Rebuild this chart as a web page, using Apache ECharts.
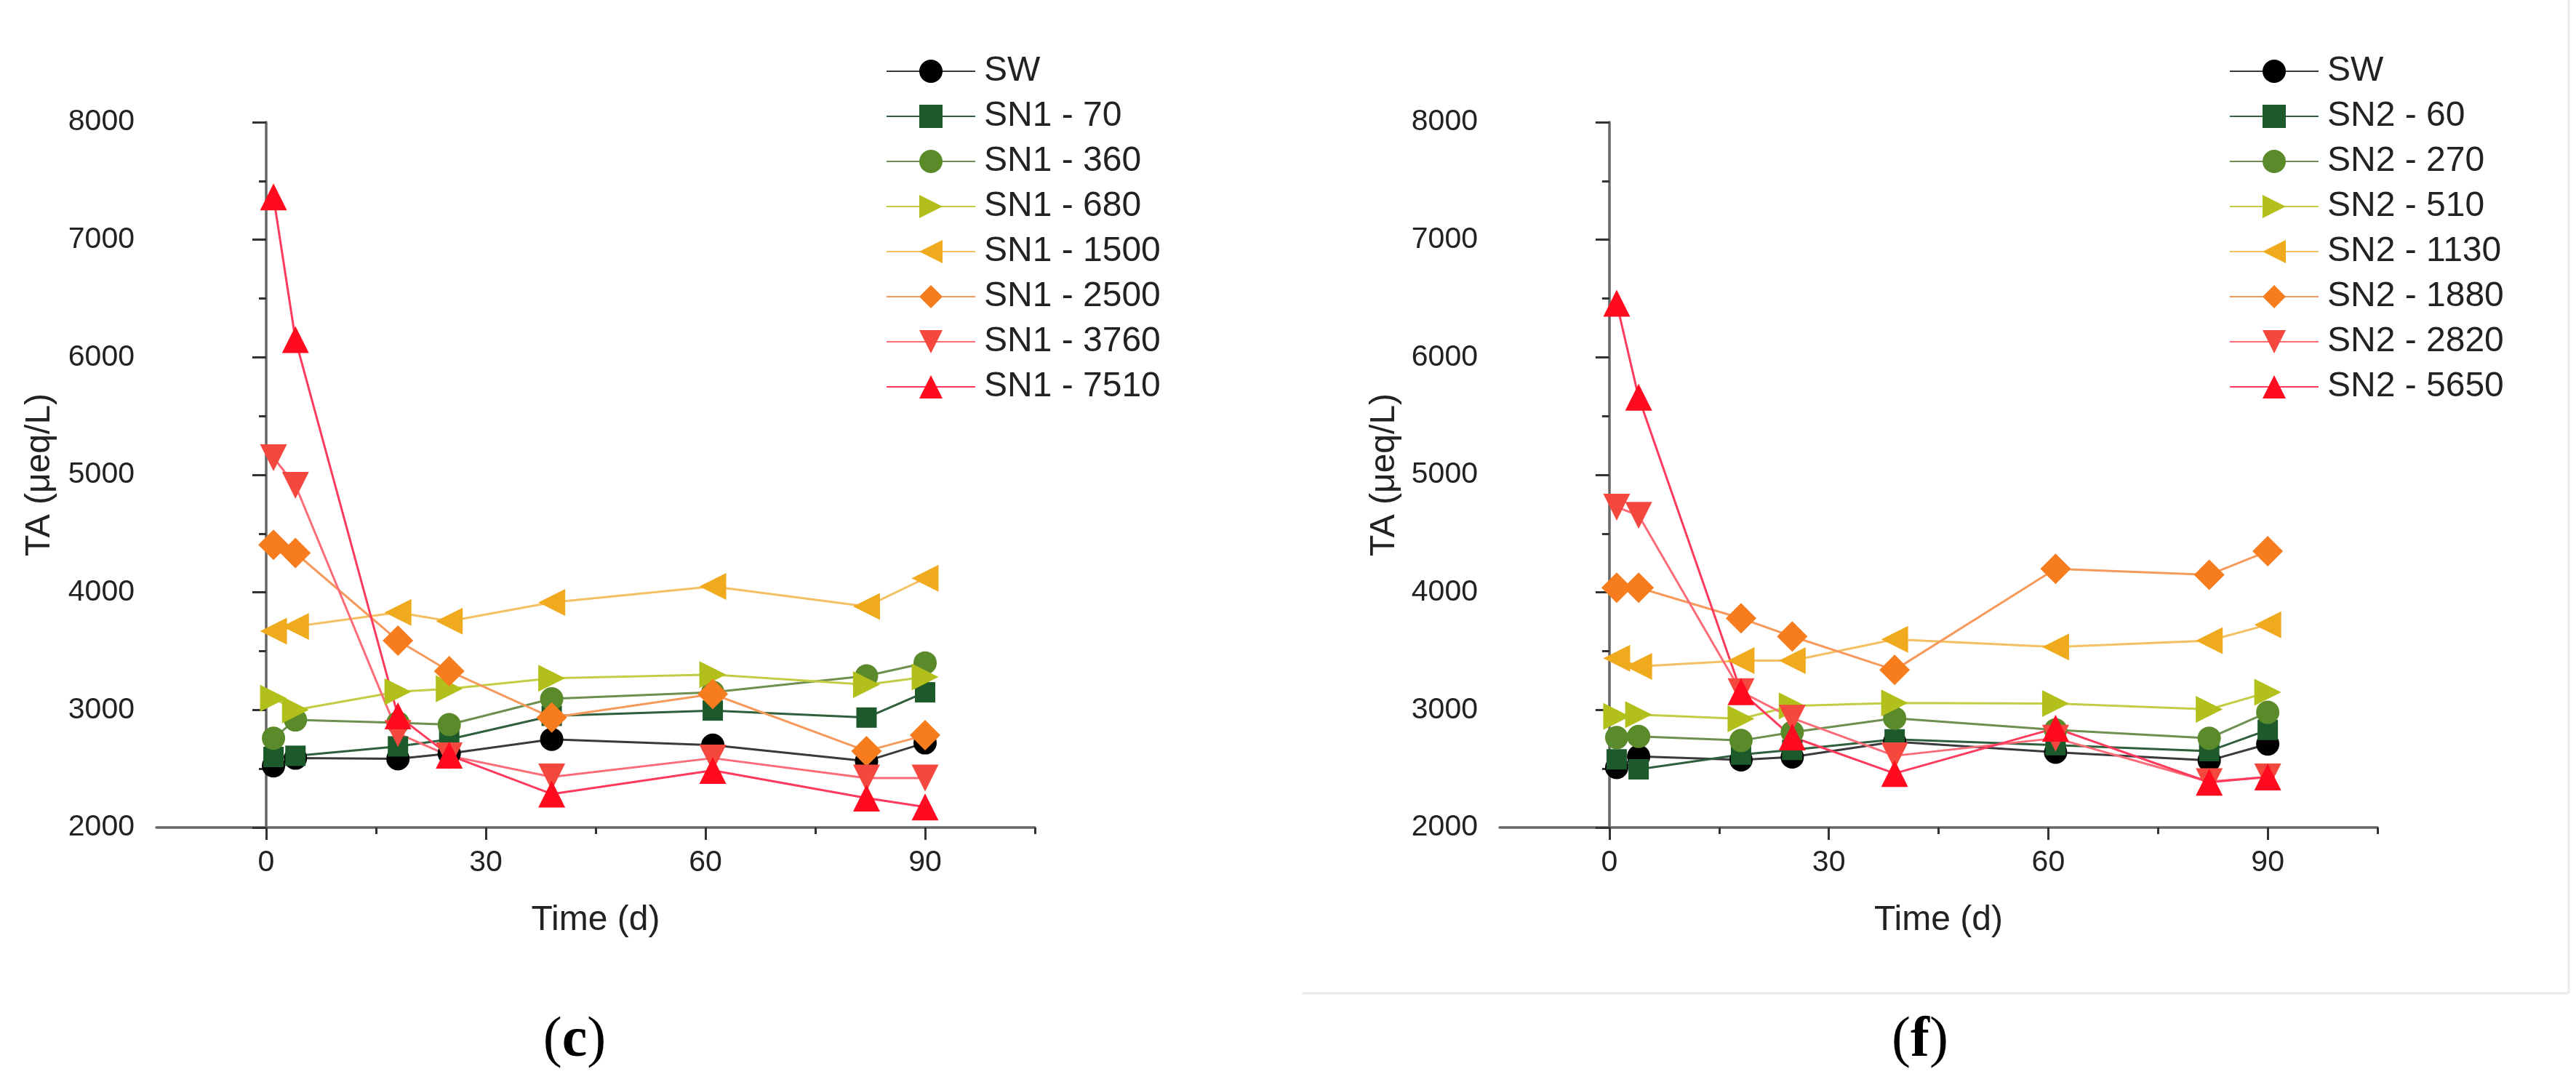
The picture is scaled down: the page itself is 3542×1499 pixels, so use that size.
<!DOCTYPE html>
<html>
<head>
<meta charset="utf-8">
<title>TA over time</title>
<script src="https://cdn.jsdelivr.net/npm/echarts@6.0.0/dist/echarts.min.js"></script>
<style>
    html, body {margin: 0; padding: 0; background: #fff;}
    #echart_container {width: 3542px; height: 1499px;}
</style>
</head>
<body>
<div id="echart_container"></div>
<script>
// sampling days (x)
const times = [1, 4, 18, 25, 39, 61, 82, 90];
const xLabelTicks = [0, 30, 60, 90];
const xMinorTicks = [15, 45, 75, 105];

// panel (c)
const namesC = ['SW', 'SN1 - 70', 'SN1 - 360', 'SN1 - 680', 'SN1 - 1500', 'SN1 - 2500', 'SN1 - 3760', 'SN1 - 7510'];
const swC = [2525, 2590, 2585, 2630, 2750, 2700, 2565, 2720];
const sn1_70 = [2600, 2610, 2690, 2750, 2950, 2995, 2935, 3150];
const sn1_360 = [2760, 2915, 2890, 2875, 3095, 3150, 3290, 3400];
const sn1_680 = [3100, 3000, 3155, 3180, 3270, 3300, 3215, 3280];
const sn1_1500 = [3670, 3710, 3830, 3755, 3915, 4050, 3880, 4120];
const sn1_2500 = [4405, 4335, 3590, 3330, 2935, 3135, 2650, 2785];
const sn1_3760 = [5145, 4910, 2800, 2610, 2430, 2590, 2420, 2420];
const sn1_7510 = [7365, 6150, 2950, 2615, 2285, 2485, 2250, 2175];

// panel (f)
const namesF = ['SW', 'SN2 - 60', 'SN2 - 270', 'SN2 - 510', 'SN2 - 1130', 'SN2 - 1880', 'SN2 - 2820', 'SN2 - 5650'];
const swF = [2510, 2605, 2575, 2600, 2730, 2640, 2570, 2710];
const sn2_60 = [2580, 2495, 2620, 2660, 2750, 2700, 2650, 2830];
const sn2_270 = [2765, 2775, 2740, 2810, 2930, 2830, 2760, 2980];
const sn2_510 = [2945, 2960, 2925, 3035, 3060, 3055, 3005, 3150];
const sn2_1130 = [3440, 3370, 3420, 3420, 3600, 3535, 3590, 3725];
const sn2_1880 = [4040, 4040, 3780, 3625, 3340, 4200, 4150, 4350];
const sn2_2820 = [4725, 4655, 3155, 2930, 2610, 2760, 2390, 2430];
const sn2_5650 = [6460, 5660, 3155, 2770, 2460, 2845, 2385, 2430];

const yTicks = {min: 2000, max: 8000, interval: 1000};

const FONT = '"Liberation Sans", Arial, sans-serif';
const TEXT = '#222';

// marker + colour per concentration level
const styles = [
    {symbol: 'circle', size: 32, rotate: 0, color: '#000000', line: '#3a3a3a'},
    {symbol: 'rect', size: 28, rotate: 0, color: '#1c5a2b', line: '#2f5f3b'},
    {symbol: 'circle', size: 32, rotate: 0, color: '#5b8a2a', line: '#6e8f50'},
    {symbol: 'triangle', size: 37, rotate: -90, color: '#b3bf1b', line: '#c3cc45'},
    {symbol: 'triangle', size: 37, rotate: 90, color: '#f0aa1e', line: '#f3c063'},
    {symbol: 'diamond', size: 42, rotate: 0, color: '#f67c1e', line: '#f59a5c'},
    {symbol: 'triangle', size: 37, rotate: 180, color: '#f4483f', line: '#fb6c78'},
    {symbol: 'triangle', size: 37, rotate: 0, color: '#ff0a1e', line: '#ff3a5c'}
];

const _METHODS = {
    buildSeries(names, values, idx) {
        return names.map((name, i) => ({
            name: name,
            type: 'line',
            xAxisIndex: idx * 2,
            yAxisIndex: idx,
            data: times.map((t, k) => [t, values[i][k]]),
            symbol: styles[i].symbol,
            symbolSize: styles[i].size,
            symbolRotate: styles[i].rotate,
            itemStyle: {color: styles[i].color},
            lineStyle: {color: styles[i].line, width: 3},
            emphasis: {disabled: true},
            animation: false
        }));
    },
    xAxes(gridIndex) {
        return [
            {
                type: 'value',
                gridIndex: gridIndex,
                min: -15,
                max: 105,
                position: 'bottom',
                name: 'Time (d)',
                nameLocation: 'middle',
                nameGap: 104,
                nameTextStyle: {fontSize: 48, color: TEXT, fontFamily: FONT},
                axisLine: {onZero: false, lineStyle: {color: '#666', width: 3.5}},
                axisTick: {customValues: xLabelTicks, length: 17, lineStyle: {color: '#333', width: 3}},
                axisLabel: {customValues: xLabelTicks, fontSize: 41, color: TEXT, margin: 28, fontFamily: FONT},
                splitLine: {show: false}
            },
            {
                type: 'value',
                gridIndex: gridIndex,
                min: -15,
                max: 105,
                position: 'bottom',
                axisLine: {show: false},
                axisTick: {customValues: xMinorTicks, length: 9, lineStyle: {color: '#333', width: 3}},
                axisLabel: {show: false},
                splitLine: {show: false}
            }
        ];
    },
    yAxis(gridIndex, gap) {
        return {
            type: 'value',
            gridIndex: gridIndex,
            min: yTicks.min,
            max: yTicks.max,
            interval: yTicks.interval,
            name: 'TA (μeq/L)',
            nameLocation: 'middle',
            nameGap: gap,
            nameTextStyle: {fontSize: 48, color: TEXT, fontFamily: FONT},
            axisLine: {show: true, lineStyle: {color: '#666', width: 3.5}},
            axisTick: {show: true, length: 19, lineStyle: {color: '#333', width: 3}},
            minorTick: {show: true, splitNumber: 2, length: 10, lineStyle: {color: '#333', width: 3}},
            axisLabel: {
                fontSize: 41, color: TEXT, margin: 30, fontFamily: FONT,
                formatter: v => String(v)
            },
            splitLine: {show: false}
        };
    },
    legend(names, left) {
        return {
            data: names,
            orient: 'vertical',
            left: left,
            top: 69,
            itemWidth: 122,
            itemHeight: 40,
            itemGap: 14,
            selectedMode: false,
            textStyle: {fontSize: 48, color: TEXT, fontFamily: FONT, padding: [0, 0, 0, 7]}
        };
    },
    caption(letter, x) {
        return {
            type: 'text',
            x: x,
            y: 1432,
            style: {
                text: '{p|(}{b|' + letter + '}{p|)}',
                align: 'center',
                verticalAlign: 'middle',
                rich: {
                    p: {fontSize: 78, fontFamily: '"Liberation Serif", "Times New Roman", serif', color: '#000'},
                    b: {fontSize: 78, fontWeight: 'bold', fontFamily: '"Liberation Serif", "Times New Roman", serif', color: '#000'}
                }
            }
        };
    },
    // faint edge of the right-hand sub-figure
    frame() {
        const edge = {stroke: '#ebebeb', lineWidth: 3};
        return [
            {type: 'line', shape: {x1: 3532, y1: 0, x2: 3532, y2: 1366}, style: edge, silent: true},
            {type: 'line', shape: {x1: 1790, y1: 1366, x2: 3532, y2: 1366}, style: edge, silent: true}
        ];
    },
    initChart() {
        const valuesC = [swC, sn1_70, sn1_360, sn1_680, sn1_1500, sn1_2500, sn1_3760, sn1_7510];
        const valuesF = [swF, sn2_60, sn2_270, sn2_510, sn2_1130, sn2_1880, sn2_2820, sn2_5650];
        const option = {
            backgroundColor: '#fff',
            animation: false,
            textStyle: {fontFamily: FONT},
            grid: [
                {left: 215, top: 168, width: 1208, height: 970},
                {left: 2062, top: 168, width: 1207, height: 970}
            ],
            xAxis: [..._METHODS.xAxes(0), ..._METHODS.xAxes(1)],
            yAxis: [_METHODS.yAxis(0, 136), _METHODS.yAxis(1, 134)],
            legend: [_METHODS.legend(namesC, 1213), _METHODS.legend(namesF, 3060)],
            graphic: [
                ..._METHODS.frame(),
                _METHODS.caption('c', 790),
                _METHODS.caption('f', 2640)
            ],
            series: [
                ..._METHODS.buildSeries(namesC, valuesC, 0),
                ..._METHODS.buildSeries(namesF, valuesF, 1)
            ]
        };
        let myChart = echarts.init(document.querySelector('#echart_container'));
        myChart.setOption(option);
    }
};

_METHODS.initChart();
</script>
</body>
</html>
